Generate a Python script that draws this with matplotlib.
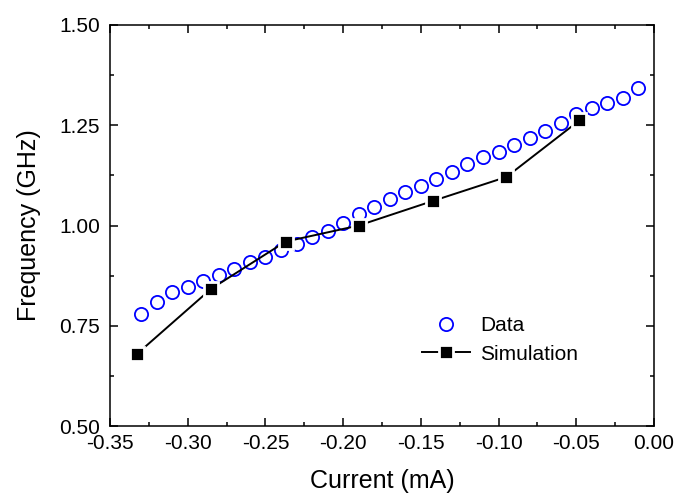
import matplotlib
matplotlib.use("Agg")
import matplotlib.pyplot as plt
from matplotlib.ticker import MultipleLocator

plt.rcParams['font.family'] = ['Liberation Sans', 'DejaVu Sans']

# measured data (open circles)
data_current = [-0.33, -0.32, -0.31, -0.30, -0.29, -0.28, -0.27, -0.26, -0.25, -0.24,
                -0.23, -0.22, -0.21, -0.20, -0.19, -0.18, -0.17, -0.16, -0.15, -0.14,
                -0.13, -0.12, -0.11, -0.10, -0.09, -0.08, -0.07, -0.06, -0.05, -0.04,
                -0.03, -0.02, -0.01]
data_freq = [0.779, 0.809, 0.834, 0.847, 0.862, 0.877, 0.892, 0.909, 0.921, 0.939,
             0.954, 0.971, 0.986, 1.006, 1.029, 1.046, 1.066, 1.084, 1.099, 1.116,
             1.133, 1.153, 1.171, 1.183, 1.201, 1.218, 1.236, 1.256, 1.278, 1.293,
             1.305, 1.318, 1.343]

# simulation (squares + line)
sim_current = [-0.3326, -0.285, -0.237, -0.190, -0.1425, -0.095, -0.048]
sim_freq = [0.680, 0.842, 0.960, 1.000, 1.061, 1.121, 1.262]

fig = plt.figure(figsize=(6.77, 4.96), dpi=100)
ax = fig.add_axes([0.1625, 0.141, 0.8035, 0.8086])

ax.plot(data_current, data_freq, linestyle='none', marker='o', markersize=9.5,
        markerfacecolor='none', markeredgecolor='#0000ff', markeredgewidth=1.3,
        label='Data')
# white marker edge leaves the small gap between line and square, like Origin
ax.plot(sim_current, sim_freq, color='black', linewidth=1.4, marker='s',
        markersize=10.6, markerfacecolor='black', markeredgecolor='white',
        markeredgewidth=2.0, label='Simulation')

ax.set_xlim(-0.35, 0.0)
ax.set_ylim(0.5, 1.5)
ax.xaxis.set_major_locator(MultipleLocator(0.05))
ax.xaxis.set_minor_locator(MultipleLocator(0.025))
ax.yaxis.set_major_locator(MultipleLocator(0.25))
ax.yaxis.set_minor_locator(MultipleLocator(0.125))
ax.xaxis.set_major_formatter(plt.FuncFormatter(lambda v, p: f"{v:.2f}" if abs(v) > 1e-9 else "0.00"))
ax.yaxis.set_major_formatter(plt.FuncFormatter(lambda v, p: f"{v:.2f}"))

ax.tick_params(which='both', direction='in', top=True, right=True, width=1.1,
               labelsize=15)
ax.tick_params(which='major', length=6)
ax.tick_params(which='minor', length=3)
ax.tick_params(axis='x', which='major', pad=6)
ax.tick_params(axis='y', which='major', pad=7)
for s in ax.spines.values():
    s.set_linewidth(1.1)

ax.set_xlabel('Current (mA)', fontsize=18, labelpad=11)
ax.set_ylabel('Frequency (GHz)', fontsize=18, labelpad=13)

ax.legend(loc='upper left', bbox_to_anchor=(0.5735, 0.274), frameon=False,
          fontsize=15, handlelength=2.3, handletextpad=0.5, labelspacing=0.45,
          borderpad=0, borderaxespad=0)

fig.savefig('out.png', dpi=100)
